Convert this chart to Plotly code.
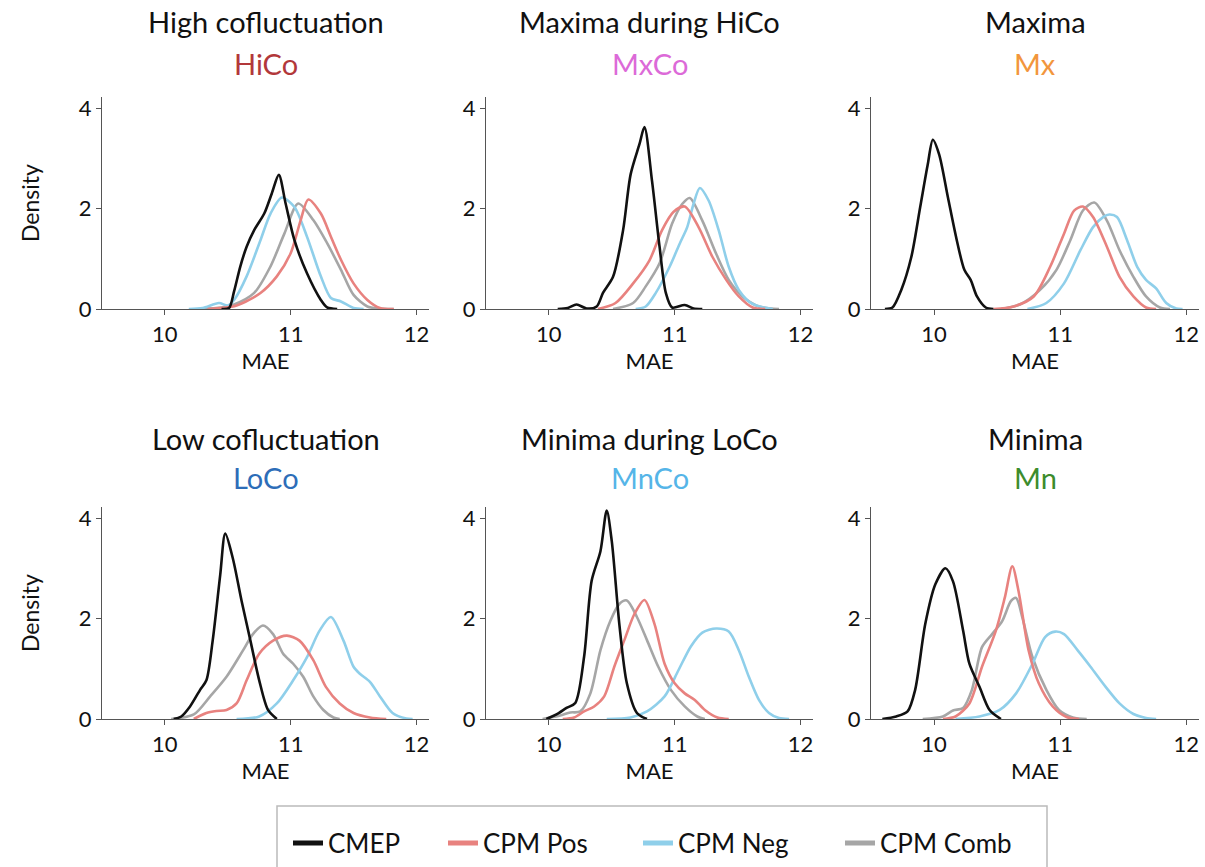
import plotly.graph_objects as go

# ---------------- data ----------------
SERIES = ["CMEP", "CPM Pos", "CPM Neg", "CPM Comb"]
SERIES_COLORS = ["#111111", "#e8827f", "#8fcfea", "#a6a6a6"]

PANEL_TITLES = ["High cofluctuation", "Maxima during HiCo", "Maxima",
                "Low cofluctuation", "Minima during LoCo", "Minima"]
PANEL_CODES = ["HiCo", "MxCo", "Mx", "LoCo", "MnCo", "Mn"]
CODE_COLORS = ["#b2383a", "#dc6ad8", "#f2963c", "#2d6db8", "#55b5e8", "#3c8c2c"]

X_TICKS = [10, 11, 12]
Y_TICKS = [0, 2, 4]

# HiCo
HICO_CMEP_X = [10.45, 10.51, 10.55, 10.60, 10.65, 10.71, 10.79, 10.85, 10.906, 10.96, 11.03, 11.13, 11.24, 11.29, 11.37]
HICO_CMEP_Y = [0, 0.02, 0.35, 0.85, 1.24, 1.57, 1.9, 2.3, 2.67, 2.1, 1.37, 0.71, 0.18, 0.03, 0]
HICO_POS_X = [10.34, 10.57, 10.76, 10.89, 11.0, 11.08, 11.14, 11.24, 11.32, 11.40, 11.50, 11.61, 11.71, 11.82]
HICO_POS_Y = [0, 0.07, 0.32, 0.65, 1.11, 1.77, 2.18, 1.9, 1.44, 0.98, 0.51, 0.18, 0.02, 0]
HICO_NEG_X = [10.19, 10.30, 10.43, 10.50, 10.55, 10.65, 10.76, 10.84, 10.93, 11.03, 11.13, 11.24, 11.32, 11.40, 11.50, 11.58]
HICO_NEG_Y = [0, 0.02, 0.12, 0.07, 0.18, 0.65, 1.37, 1.9, 2.22, 2.03, 1.44, 0.65, 0.22, 0.15, 0.02, 0]
HICO_COMB_X = [10.28, 10.45, 10.55, 10.71, 10.84, 10.95, 11.06, 11.18, 11.29, 11.40, 11.50, 11.61, 11.70, 11.82]
HICO_COMB_Y = [0, 0.03, 0.09, 0.32, 0.85, 1.5, 2.1, 1.77, 1.31, 0.78, 0.28, 0.05, 0.01, 0]

# MxCo
MXCO_CMEP_X = [10.07, 10.15, 10.22, 10.30, 10.38, 10.43, 10.51, 10.59, 10.65, 10.72, 10.76, 10.82, 10.88, 10.93, 10.98, 11.08, 11.15, 11.22]
MXCO_CMEP_Y = [0, 0.02, 0.09, 0.01, 0.05, 0.32, 0.64, 1.57, 2.68, 3.28, 3.62, 2.55, 1.24, 0.32, 0.03, 0.08, 0.01, 0]
MXCO_POS_X = [10.39, 10.53, 10.67, 10.80, 10.90, 10.99, 11.08, 11.19, 11.30, 11.41, 11.51, 11.62, 11.72]
MXCO_POS_Y = [0, 0.12, 0.51, 0.97, 1.57, 1.93, 2.04, 1.63, 1.04, 0.58, 0.25, 0.03, 0]
MXCO_NEG_X = [10.69, 10.77, 10.85, 10.96, 11.04, 11.10, 11.15, 11.20, 11.27, 11.35, 11.43, 11.51, 11.62, 11.78]
MXCO_NEG_Y = [0, 0.05, 0.32, 0.84, 1.3, 1.63, 2.09, 2.41, 2.16, 1.57, 0.84, 0.38, 0.1, 0]
MXCO_COMB_X = [10.51, 10.67, 10.77, 10.88, 10.98, 11.06, 11.12, 11.22, 11.33, 11.43, 11.54, 11.67, 11.83]
MXCO_COMB_Y = [0, 0.12, 0.45, 0.91, 1.7, 2.09, 2.21, 1.76, 1.1, 0.58, 0.25, 0.05, 0]

# Mx
MX_CMEP_X = [9.61, 9.67, 9.74, 9.82, 9.89, 9.95, 9.99, 10.04, 10.11, 10.18, 10.24, 10.29, 10.34, 10.41, 10.47]
MX_CMEP_Y = [0, 0.03, 0.38, 1.04, 2.03, 2.88, 3.37, 3.08, 2.22, 1.37, 0.78, 0.58, 0.25, 0.03, 0]
MX_POS_X = [10.47, 10.63, 10.79, 10.92, 11.03, 11.11, 11.18, 11.26, 11.37, 11.47, 11.58, 11.68, 11.76]
MX_POS_Y = [0, 0.05, 0.25, 0.84, 1.5, 1.96, 2.04, 1.83, 1.24, 0.64, 0.25, 0.03, 0]
MX_NEG_X = [10.74, 10.89, 11.03, 11.16, 11.26, 11.34, 11.39, 11.45, 11.53, 11.61, 11.68, 11.76, 11.84, 11.92, 11.97]
MX_NEG_Y = [0, 0.12, 0.51, 1.17, 1.63, 1.83, 1.88, 1.83, 1.37, 0.84, 0.58, 0.41, 0.12, 0.01, 0]
MX_COMB_X = [10.53, 10.68, 10.84, 10.97, 11.08, 11.18, 11.27, 11.37, 11.47, 11.58, 11.68, 11.79, 11.87]
MX_COMB_Y = [0, 0.09, 0.38, 0.78, 1.37, 1.96, 2.12, 1.76, 1.17, 0.64, 0.25, 0.03, 0]

# LoCo
LOCO_CMEP_X = [10.07, 10.13, 10.20, 10.28, 10.33, 10.38, 10.44, 10.48, 10.54, 10.61, 10.68, 10.75, 10.82, 10.89]
LOCO_CMEP_Y = [0, 0.05, 0.25, 0.58, 0.77, 1.56, 2.87, 3.69, 3.2, 2.35, 1.56, 0.77, 0.18, 0]
LOCO_POS_X = [10.23, 10.33, 10.41, 10.49, 10.57, 10.65, 10.75, 10.86, 10.97, 11.07, 11.18, 11.28, 11.39, 11.50, 11.63, 11.76]
LOCO_POS_Y = [0, 0.12, 0.16, 0.18, 0.31, 0.77, 1.3, 1.56, 1.66, 1.56, 1.17, 0.64, 0.31, 0.12, 0.03, 0]
LOCO_NEG_X = [10.57, 10.75, 10.89, 11.02, 11.13, 11.23, 11.32, 11.42, 11.50, 11.55, 11.63, 11.71, 11.81, 11.92, 11.97]
LOCO_NEG_Y = [0, 0.05, 0.31, 0.77, 1.23, 1.76, 2.03, 1.56, 1.04, 0.9, 0.74, 0.45, 0.12, 0.01, 0]
LOCO_COMB_X = [10.05, 10.23, 10.36, 10.49, 10.62, 10.70, 10.78, 10.86, 10.94, 11.02, 11.10, 11.18, 11.26, 11.34, 11.39]
LOCO_COMB_Y = [0, 0.09, 0.45, 0.84, 1.36, 1.69, 1.86, 1.69, 1.3, 1.1, 0.84, 0.45, 0.18, 0.03, 0]

# MnCo
MNCO_CMEP_X = [9.98, 10.06, 10.14, 10.21, 10.28, 10.34, 10.41, 10.46, 10.50, 10.56, 10.62, 10.70, 10.78]
MNCO_CMEP_Y = [0, 0.09, 0.22, 0.32, 1.24, 2.75, 3.34, 4.15, 3.54, 1.89, 0.71, 0.12, 0]
MNCO_POS_X = [10.11, 10.20, 10.28, 10.36, 10.44, 10.52, 10.60, 10.68, 10.76, 10.84, 10.92, 11.0, 11.08, 11.16, 11.24, 11.34, 11.43]
MNCO_POS_Y = [0, 0.03, 0.15, 0.25, 0.45, 1.04, 1.57, 2.09, 2.37, 1.89, 1.1, 0.71, 0.51, 0.38, 0.18, 0.03, 0]
MNCO_NEG_X = [10.46, 10.65, 10.78, 10.92, 11.03, 11.13, 11.22, 11.33, 11.43, 11.51, 11.59, 11.67, 11.75, 11.83, 11.91]
MNCO_NEG_Y = [0, 0.03, 0.15, 0.45, 0.97, 1.45, 1.72, 1.8, 1.74, 1.37, 0.84, 0.38, 0.12, 0.02, 0]
MNCO_COMB_X = [9.95, 10.09, 10.17, 10.25, 10.33, 10.41, 10.49, 10.56, 10.62, 10.70, 10.78, 10.87, 10.97, 11.08, 11.18, 11.24]
MNCO_COMB_Y = [0, 0.07, 0.13, 0.15, 0.51, 1.37, 1.96, 2.29, 2.36, 2.03, 1.57, 1.04, 0.58, 0.25, 0.05, 0]

# Mn
MN_CMEP_X = [9.59, 9.70, 9.79, 9.85, 9.93, 10.01, 10.09, 10.15, 10.23, 10.28, 10.36, 10.44, 10.53]
MN_CMEP_Y = [0, 0.05, 0.15, 0.58, 1.89, 2.68, 3.0, 2.74, 1.76, 1.1, 0.64, 0.18, 0]
MN_POS_X = [10.07, 10.17, 10.28, 10.38, 10.49, 10.56, 10.62, 10.67, 10.75, 10.83, 10.94, 11.05, 11.15]
MN_POS_Y = [0, 0.05, 0.31, 1.04, 1.76, 2.41, 3.04, 2.54, 1.36, 0.71, 0.25, 0.04, 0]
MN_NEG_X = [10.17, 10.36, 10.52, 10.65, 10.78, 10.88, 10.96, 11.03, 11.14, 11.24, 11.36, 11.47, 11.58, 11.68, 11.76]
MN_NEG_Y = [0, 0.05, 0.18, 0.51, 1.1, 1.63, 1.74, 1.69, 1.36, 1.04, 0.64, 0.31, 0.1, 0.02, 0]
MN_COMB_X = [9.91, 10.07, 10.15, 10.23, 10.30, 10.38, 10.46, 10.54, 10.61, 10.65, 10.70, 10.78, 10.89, 10.99, 11.10, 11.21]
MN_COMB_Y = [0, 0.05, 0.17, 0.22, 0.58, 1.43, 1.69, 1.95, 2.35, 2.41, 2.02, 1.23, 0.58, 0.18, 0.03, 0]

PANELS = [
    [(HICO_CMEP_X, HICO_CMEP_Y), (HICO_POS_X, HICO_POS_Y), (HICO_NEG_X, HICO_NEG_Y), (HICO_COMB_X, HICO_COMB_Y)],
    [(MXCO_CMEP_X, MXCO_CMEP_Y), (MXCO_POS_X, MXCO_POS_Y), (MXCO_NEG_X, MXCO_NEG_Y), (MXCO_COMB_X, MXCO_COMB_Y)],
    [(MX_CMEP_X, MX_CMEP_Y), (MX_POS_X, MX_POS_Y), (MX_NEG_X, MX_NEG_Y), (MX_COMB_X, MX_COMB_Y)],
    [(LOCO_CMEP_X, LOCO_CMEP_Y), (LOCO_POS_X, LOCO_POS_Y), (LOCO_NEG_X, LOCO_NEG_Y), (LOCO_COMB_X, LOCO_COMB_Y)],
    [(MNCO_CMEP_X, MNCO_CMEP_Y), (MNCO_POS_X, MNCO_POS_Y), (MNCO_NEG_X, MNCO_NEG_Y), (MNCO_COMB_X, MNCO_COMB_Y)],
    [(MN_CMEP_X, MN_CMEP_Y), (MN_POS_X, MN_POS_Y), (MN_NEG_X, MN_NEG_Y), (MN_COMB_X, MN_COMB_Y)],
]

# ---------------- layout geometry (pixels in a 1205x867 page) ----------------
W, H = 1205, 867
COL_PX = [(102, 429), (486, 813), (871, 1199)]
ROW_PX = [(97, 309), (507, 719)]
LEGEND_ITEM_PX = [288, 443, 638, 840]
FONT = "Lato"
AXIS_COLOR = "#555555"

fig = go.Figure()
layout_axes = {}
annotations = []

for i, panel in enumerate(PANELS):
    r, c = divmod(i, 3)
    n = i + 1
    xa = "x" if n == 1 else f"x{n}"
    ya = "y" if n == 1 else f"y{n}"
    for s in [3, 2, 1, 0]:
        xs, ys = panel[s]
        fig.add_trace(go.Scatter(
            x=xs, y=ys, mode="lines", name=SERIES[s],
            line=dict(color=SERIES_COLORS[s], width=2.6, shape="spline", smoothing=0.8),
            showlegend=False, xaxis=xa, yaxis=ya, hoverinfo="skip"))
    x0, x1 = COL_PX[c]
    y0, y1 = ROW_PX[r]
    layout_axes["xaxis" if n == 1 else f"xaxis{n}"] = dict(
        domain=[x0 / W, x1 / W], range=[9.5, 12.1], tickvals=X_TICKS, ticktext=[str(v) for v in X_TICKS],
        showline=True, linecolor=AXIS_COLOR, linewidth=1.3, ticks="outside", ticklen=5,
        tickcolor=AXIS_COLOR, showgrid=False, zeroline=False, anchor=ya,
        tickfont=dict(family=FONT, size=22, color="#111"),
        title=dict(text="MAE", font=dict(family=FONT, size=22, color="#111"), standoff=6))
    layout_axes["yaxis" if n == 1 else f"yaxis{n}"] = dict(
        domain=[1 - y1 / H, 1 - y0 / H], range=[0, 4.22], tickvals=Y_TICKS, ticktext=[str(v) for v in Y_TICKS],
        showline=True, linecolor=AXIS_COLOR, linewidth=1.3, ticks="outside", ticklen=5,
        tickcolor=AXIS_COLOR, showgrid=False, zeroline=False, anchor=xa,
        tickfont=dict(family=FONT, size=22, color="#111"))
    cx = (x0 + x1) / 2 / W
    ty = 22 if r == 0 else 438
    cy = 63 if r == 0 else 477
    annotations.append(dict(text=PANEL_TITLES[i], x=cx, y=1 - ty / H, xref="paper", yref="paper",
                            showarrow=False, xanchor="center", yanchor="middle",
                            font=dict(family=FONT, size=29, color="#111")))
    annotations.append(dict(text=PANEL_CODES[i], x=cx, y=1 - cy / H, xref="paper", yref="paper",
                            showarrow=False, xanchor="center", yanchor="middle",
                            font=dict(family=FONT, size=29, color=CODE_COLORS[i])))

for yc in [203, 613]:
    annotations.append(dict(text="Density", x=30 / W, y=1 - yc / H, xref="paper", yref="paper",
                            showarrow=False, textangle=-90, xanchor="center", yanchor="middle",
                            font=dict(family=FONT, size=23, color="#111")))

# legend entries, one legend per entry so their spacing matches the reference
legend_layouts = {}
for s in range(4):
    lname = "legend" if s == 0 else f"legend{s + 1}"
    fig.add_trace(go.Scatter(x=[None], y=[None], mode="lines", name=SERIES[s],
                             line=dict(color=SERIES_COLORS[s], width=5),
                             showlegend=True, legend=lname, xaxis="x", yaxis="y"))
    legend_layouts[lname] = dict(
        orientation="h", x=LEGEND_ITEM_PX[s] / W, y=1 - 843 / H, xanchor="left", yanchor="middle",
        font=dict(family=FONT, size=26, color="#111"), bgcolor="rgba(0,0,0,0)",
        itemwidth=30, borderwidth=0)

fig.update_layout(
    width=W, height=H, margin=dict(l=0, r=0, t=0, b=0, autoexpand=False),
    paper_bgcolor="white", plot_bgcolor="white",
    annotations=annotations,
    shapes=[dict(type="rect", xref="paper", yref="paper",
                 x0=277 / W, x1=1047 / W, y0=-0.05, y1=1 - 806 / H,
                 line=dict(color="#bbbbbb", width=1.5), fillcolor="rgba(0,0,0,0)")],
    showlegend=True,
    **legend_layouts,
    **layout_axes,
)

fig.write_html("out.html")
